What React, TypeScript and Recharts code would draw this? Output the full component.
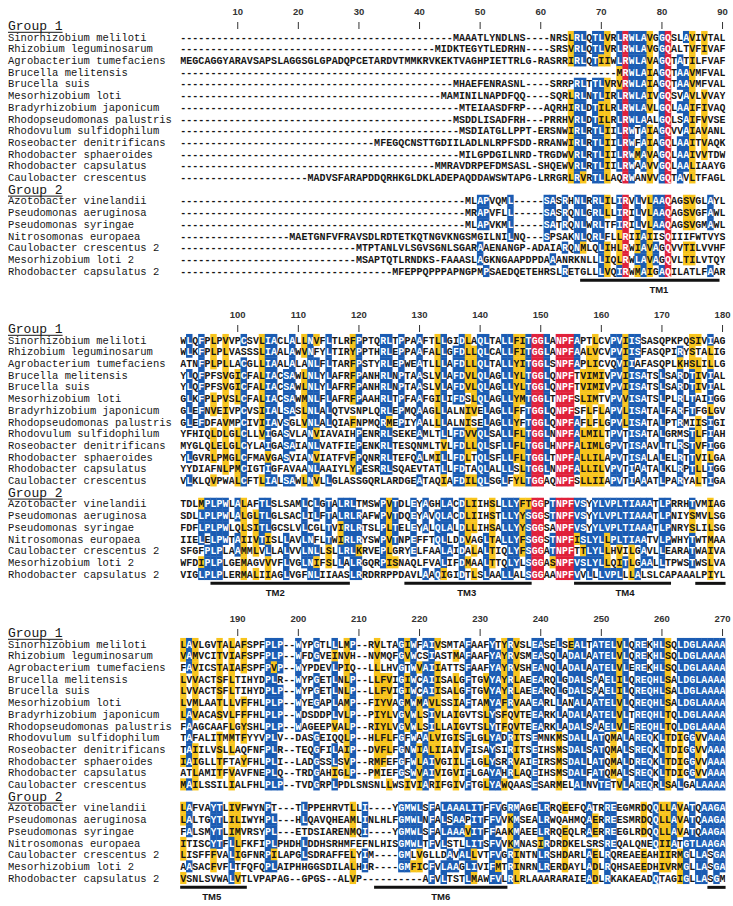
import React from 'react';
import { ScatterChart, Scatter, XAxis, YAxis, ReferenceLine } from 'recharts';

// ---------------- data ----------------
const group1Names = [
  'Sinorhizobium meliloti', 'Rhizobium leguminosarum', 'Agrobacterium tumefaciens',
  'Brucella melitensis', 'Brucella suis', 'Mesorhizobium loti', 'Bradyrhizobium japonicum',
  'Rhodopseudomonas palustris', 'Rhodovulum sulfidophilum', 'Roseobacter denitrificans',
  'Rhodobacter sphaeroides', 'Rhodobacter capsulatus', 'Caulobacter crescentus',
];
const group2Names = [
  'Azotobacter vinelandii', 'Pseudomonas aeruginosa', 'Pseudomonas syringae',
  'Nitrosomonas europaea', 'Caulobacter crescentus 2', 'Mesorhizobium loti 2',
  'Rhodobacter capsulatus 2',
];
const groupTitles = ['Group 1', 'Group 2'];

// columns 1-90
const block1Group1 = [
  '-'.repeat(45) + 'MAAATLYNDLNS----NRSLRLQT' + 'LVRLRWLAVGGQSLAVIVTAL',
  '-'.repeat(42) + 'MIDKTEGYTLEDRHN----SRSVRLQT' + 'LVRLRWLAVGGQALTVFIVAF',
  'MEGCAGGYARAVSAPSLAGGSGL' + 'GPADQPCETARDVTMMKRVKEKT' + 'VAGHPIETTRLG-RASRRIRLQT' + 'IIWLRWLAVAGQTATILFVAF',
  '-'.repeat(72) + 'MRWLAIAGQTAAVMFVAL',
  '-'.repeat(45) + 'MHAEFENRASNL----SRRPRLTT' + 'LVRVRWLAIAGQTAAVMFVAL',
  '-'.repeat(43) + 'MAMINILNAPDFQQ----SQRLRLNT' + 'LIRLRWLAIVGQSVAVLVVAY',
  '-'.repeat(46) + 'MTEIAASDFRP---AQRHIRLDT' + 'ILRLRWLAVLGQLAAIFIVAQ',
  '-'.repeat(45) + 'MSDDLISADFRH---PRRHVRLDT' + 'ILRLRWLAALGQLSAIFVVSE',
  '-'.repeat(46) + 'MSDIATGLLPPT-ERSNWIRLRT' + 'LIILRWTAIAGQVVAIAVANL',
  '-'.repeat(32) + 'MFEGQCNSTTGDI' + 'ILADLNLRPFSDD-RRANWIRLRT' + 'LIILRWFAIAGQLAAITVAQK',
  '-'.repeat(46) + 'MILGPDGILNRD-TRGDWVRLRT' + 'LIILRWMAVAGQLAAIVVTDW',
  '-'.repeat(42) + 'MMRAVDRPEFDMSASL-SHQEWVRLRT' + 'LIILRWAAVVGQLAALIAAYG',
  '-'.repeat(21) + 'MADVSFARAPDDQRHKGLDKLADE' + 'PAQDDAWSWTAPG-LRRGRLRVRT' + 'LLAQRWANVVGQTAVLTFAGL',
];
const block1Group2 = [
  '-'.repeat(47) + 'MLAPVQML-----SASRHNLRR' + 'LILIRVLVLAAQAGSVGLAYL',
  '-'.repeat(47) + 'MRAPVFLL-----SASRQNLGR' + 'LLLIRILVLAAQAGSVGFAWL',
  '-'.repeat(47) + 'MLAPVKML-----SATRQNLWR' + 'LTFIRILVLAAQAGSVGMAWL',
  '-'.repeat(18) + 'MAETGNFVFRAVSDLRDTETKQTNGVK' + 'NGSMGILNILNQ---SPSAKNLQR' + 'LFLLRIIAIISQIIIFWTVYS',
  '-'.repeat(29) + 'MTPTANLVLSGVSGNL' + 'SGARAAENANGP-ADAIARQNMLQ' + 'LIHLRWIAVAGQVVTILVVHF',
  '-'.repeat(29) + 'MSAPTQTLRNDKS-FAAA' + 'SLAGKNGAAPDPDAAANRKNLL' + 'LIQLRWLAVAGQVLTILVTQY',
  '-'.repeat(35) + 'MFEPPQPPPAPNGPMPSAEDQETEHRSLRETGLL' + 'LVQIRWMAIGAQILATLFAAR',
];

// columns 91-180
const block2Group1 = [
  'WLQFPLPVVPCSVLIACLALLNV' + 'FLTLRFPPTQRLTPPAAFTLLGI' + 'DLAQLTALLFITGGLANPFAPTL' + 'CVPVIISSASQPKPQSIVIAG',
  'WLKFPLPLVASSSLIAALAWVNF' + 'YLTIRYPPTHRLEPPAAFALLGF' + 'DLLQLCALLFITGGLANPFAALV' + 'CVPVIISFASQPIRYSTALIG',
  'ATNFPLPLLACGLLIAALALANL' + 'FLTARFPSTYRLEPWEATLLLAF' + 'DLLQLTALLYITGGLSNPFAPLI' + 'CVQVIIAFASQPLKHSLILLG',
  'YLQFPFSVGICFALIACSAWLNL' + 'YLAFRFPANHRLNPTAASLVLAF' + 'DVLQLAGLLYLTGGLQNPFTVIM' + 'IVPVIISATSLSARDTIVIAL',
  'YLQFPFSVGICFALIACSAWLNL' + 'YLAFRFPANHRLNPTAASLVLAF' + 'DVLQLAGLLYLTGGLQNPFTVIM' + 'IVPVIISATSLSARDTIVIAL',
  'GLKFPLPVSLCFALIACSAWMNL' + 'FLAFRFPAAHRLTPFAAFGILIF' + 'DSLQLAGLLYMTGGLTNPFSLIM' + 'TVPVVISATSLPLRLTAIIGG',
  'GLEFNVEIVPCVSIIALSASLNL' + 'ALQTVSNPLQRLEPMQAAGLLAL' + 'NIVELAGLLFFTGGLQNPFSFLF' + 'LAPVLISATALFARFTFGLGV',
  'GLEFDFAVMPCIVIIAVSGLVNL' + 'ALQIAFNPMQRMEPIYAALLLAL' + 'NISELAGLLYFTGGLQNPFAFLF' + 'LGPVLISATALPTRMIISIGI',
  'YFHIQLDLGLCLLVIGASVLANV' + 'IAVAIHPENRRLSEKEAMLTLLF' + 'DVVQLSALLFLTGGLNNPFALMI' + 'LTPVTISATALGRMSTLFIAH',
  'MYGLQLELGLCYLAIGASAIANL' + 'VATFIEPENKRLTESQNMLTVLF' + 'DLLQLSFLLFLTGGLHNPFALIM' + 'LGPVTISAAVLTLRSTVFIGG',
  'YLGVRLPMGLCFMAVGASVIANV' + 'IATFVFPQNRRLTEFQALMILLF' + 'DLTQLSFLLFLTGGLTNPFALLI' + 'LAPVTISALALELRTTVILGA',
  'YYDIAFNLPMCIGTIGFAVAANL' + 'AAIYLYPESRRLSQAEVTATLLF' + 'DTAQLALLLSLTGGLNNPFALLI' + 'LVPVTIAATALKLRPTLLIGG',
  'VLKLQVPWALCFTLIALSAWLNV' + 'LLGLASSGQRLARDGEATAQIAF' + 'DILQLSGLFYLTGGAQNPFSLLI' + 'IAPVTIAAATLPARYALTIGA',
];
const block2Group2 = [
  'TDLMPLPWLALAFTLSLSAMLCL' + 'GTALRLTMSWPVTDLEYAGHLAC' + 'DLIIHSLLLYFTGGPTNPFVSYY' + 'LVPLTIAAATLPRRHTVMIAG',
  'SDLLPLPWLALGLTLGLSACLIL' + 'FTALRLRAFWPVTDQEYAVQLAC' + 'DLIIHSTLLYYSGGSTNPFVSYY' + 'LVPLTIAAATLPNIYSMVLSG',
  'FDFLPLPWLQLSITLGCSLVLCG' + 'LTVIRLRTSLPLTELEYALQLAL' + 'DLLIHSALLYYSGGSANPFVSYY' + 'LVPLTIAAATLPNRYSLILSG',
  'IIELELPWTAIIVTISLLAVLNF' + 'LTWIRLRYSWPVTNPEFFTQLLD' + 'DVAGLTALLYFSGGSTNPFISLY' + 'LLPLTIAATVLPWHYTWTMAA',
  'SFGFPLPLAAMMLVLLALVVLNL' + 'LSLLRLKRVEPLGRYELFAALAI' + 'DALALTIQLYFSGGATNPFTTLY' + 'LLHVILGAVLLEARATWAIVA',
  'WFDIPLPLGEMAGVVVFLVGLNI' + 'FSLLALRGQRPISNAQLFVALIF' + 'DMAALTTQLYLSGGASNPFVSLY' + 'LLQITLGAALLTPWSTWSLVA',
  'VIGLPLPLERMALIIAGLVGFNL' + 'IIAASLRRDRRPPDAVLAAQIGI' + 'DTLSLAALLALSGGAANPFVVLL' + 'LVPLLLALSLCAPAAALPIYL',
];

// columns 181-270
const block3Group1 = [
  'LAVLGVTALAFSPFPLP--WYPG' + 'TLLLMP--RVLTAGIWFAIVSMT' + 'AFAAFYTYRVSLEASELSEALTA' + 'TELVLQREKHLSQLDGLAAAA',
  'VAMVCITVIAFSPFPLP--WFDG' + 'VEINVH--NVMQFGVWCSIASTM' + 'AFAAFYAYRVSMEASQLADALAA' + 'TELVLQREKHLSQLDGLAAAA',
  'FAVICSTAIAFSPFPVP--WYPD' + 'EVLPIQ--LLLHVGTWVAIIATT' + 'SFAAFYAYRVSHEANQLADALAA' + 'TELVLEREKHLSQLDGLAAAA',
  'LVVACTSFLTIHYDPLR--WYPG' + 'ETLNLP--LLFVIGIWCAIISAL' + 'GFTGVYAYRLAEEARQLGDALSA' + 'AELILQREQHLSALDGLAAAA',
  'LVVACTSFLTIHYDPLP--WYPG' + 'ETLNLP--LLFVIGIWCAIISAL' + 'GFTGVYAYRLAEEARQLGDALSA' + 'AELILQREQHLSALDGLAAAA',
  'LVMLAATLLVFFHLPLP--WYEG' + 'APLAMP--FIYVAGMWMAVLSSI' + 'AFTAMYAFRVAAEARLLANALAA' + 'TELVLQREQHLSALDGLAAAA',
  'LAVACASVLFFFHLPLP--WDSD' + 'DPLVLP--PIYLVGVWLSIVLAI' + 'GVTSLYSFQVTEEARKLADALAA' + 'TELVLTREQHLTQLDGLAAAA',
  'FAAGCAAFLGYSHLPLP--WAGE' + 'EPVALP--RIYLVGVWLSILLAI' + 'GVTSLYTFQVTEEARKLADALSA' + 'AELVLEREQHLTQLDGLAAAA',
  'TAFALITMMTFYYVPLV--DASG' + 'EIQQLP--HLFLFGFWAALVIGI' + 'SFLGLYADRITSEMNKMSDALLA' + 'TQMALAREQKLTDIGGVVAAA',
  'TAIILVSLLAQFNFPLR--TEQG' + 'FILAIP--DVFLFGNWIALIIAI' + 'VFISAYSIRITSEIHSMSDALSA' + 'TQMALSREQKLTDIGGVVAAA',
  'IAIGLLTFTAYFHLPLI--LADG' + 'SSLSVP--RMFEFGFWLAIVGII' + 'LFLGLYSRRVAIEIRSMSDALLA' + 'TQMALDREQKLTDIGGVVAAA',
  'ATLAMITFVAVFNEPLQ--TRDG' + 'AHIGLP--PMIEFGSWVAIVIGV' + 'IFLGAYAHRLAQEIHSMSDALFA' + 'TQMALSREQKLTDIGGVVAAA',
  'MAILSSILIALFHLPLP--TVDG' + 'RPLPDLSNSNLLWSIVIARIFGI' + 'VFTGLYAWQAASESARMELALNV' + 'TETVLAREQRLSALGALAAAA',
];
const block3Group2 = [
  'LAFVAYTLIVFWYNPT---TLPP' + 'EHRVTLLI----YGMWLSFALAA' + 'ALITFFVGRMAGELRRQEEFQAT' + 'RREEGMRDQQLLAVATQAAGA',
  'LALTGYTLILIWYHPL---HLQA' + 'VQHEAMLINLHLFGMWLNFALSA' + 'APITFFVVKMSEALRWQAHMQAE' + 'RREESMRDQQLLAVATQAAGA',
  'FALSMYTLIMVRSYPL---ETDS' + 'IARENMQI----YGMWLSFALAA' + 'AVITFFAAKMAEELRRQEQLRAE' + 'RREEGLRDQQLLAVATQAAGA',
  'ITISCYTFLLFKFIPLPHDHLDD' + 'HSRHMFEFNLHISGMWLTFVLST' + 'LLITSFVVKMNASIRDRDKELSR' + 'SREQALQNEQIIATGTLAAGA',
  'LISFFFVALIGFNRPILAPGLSD' + 'RAFFELYIM----GMLVGLLDAV' + 'ALLVTFVGRINTNLRSHDARLAE' + 'LRQREAEEAHIIRMGLLASGA',
  'AASACFVFLTFQFQPLAIPHHGG' + 'SDILALHIR----GMFICFVLAA' + 'GLIVIFMTRINRNLRERDAYLAD' + 'LRQHSAEEDHIVRMGLLASGA',
  'VSNLSVWALVTLVPAPAG--GPG' + 'S--ALVP----------AFVLTS' + 'TLMAWFVLRLRLAAARARAIEAD' + 'LRKAKAEADQTAGIGLLASGM',
];

const blockFirstColumns = [1, 91, 181];
const rulerTicks = [10, 20, 30, 40, 50, 60, 70, 80, 90];
// transmembrane segments: first column, last column, label column (global alignment columns)
const tmNames = ['TM1', 'TM2', 'TM3', 'TM4', 'TM5', 'TM6', ''];
const tmStarts = [67, 96, 128, 156, 176, 213, 268];
const tmEnds = [89, 118, 148, 171, 191, 234, 270];
const tmLabelColumns = [79.5, 106.2, 137.8, 163.9, 185.7, 223.5, 0];

// ---------------- styles / layout ----------------
const BLUE = '#1b5cb3';
const YELLOW = '#f7c41d';
const RED = '#e0213b';
const INK = '#161616';
const CHART_W = 733;
const CHART_H = 304;
const AXIS_H = 20;
const YAXIS_W = 180.17;
const RIGHT_M = 7.43;
const PITCH = 11.7;
const COLW = 6.06;
const FIRST_SLOT_Y = 25.3;
const Y0 = -(FIRST_SLOT_Y - AXIS_H) / PITCH;
const Y1 = Y0 + (CHART_H - AXIS_H) / PITCH;
const BLOCK_TOPS = [0, 303, 607];
const TM_BAR_SLOT = 21.8;
const TM_LABEL_SLOT = 22.6;
const MONO = "'Liberation Mono', 'DejaVu Sans Mono', monospace";
const SANS = "'Liberation Sans', Arial, sans-serif";
const ID_LEVEL = 0.55;
const SIM_LEVEL = 0.6;

const SIM: Record<string, string> = {
  I: 'h', L: 'h', V: 'h', M: 'h', F: 'a', Y: 'a', W: 'a', K: 'b', R: 'b',
  D: 'c', E: 'c', S: 's', T: 's', N: 'n', Q: 'n',
};
const simOf = (c: string) => SIM[c] || c;

function shadeGroup(rows: string[], col: number): string[] {
  const n = rows.length;
  const cnt: Record<string, number> = {};
  const ccnt: Record<string, number> = {};
  rows.forEach((r) => {
    const c = r[col];
    if (c && c !== '-') {
      cnt[c] = (cnt[c] || 0) + 1;
      const k = simOf(c);
      ccnt[k] = (ccnt[k] || 0) + 1;
    }
  });
  let top = '';
  let tc = 0;
  Object.keys(cnt).forEach((k) => { if (cnt[k] > tc) { tc = cnt[k]; top = k; } });
  let topC = '';
  let cc = 0;
  Object.keys(ccnt).forEach((k) => { if (ccnt[k] > cc) { cc = ccnt[k]; topC = k; } });
  return rows.map((r) => {
    const c = r[col];
    if (!c || c === '-') return '';
    if (tc / n >= ID_LEVEL && c === top) return 'B';
    if (tc / n >= ID_LEVEL && simOf(c) === simOf(top)) return 'Y';
    if (cc / n >= SIM_LEVEL && simOf(c) === topC) return 'Y';
    return '';
  });
}

type Cell = { x: number; y: number; ch: string; k: string };

function buildCells(g1: string[], g2: string[]): Cell[] {
  const cells: Cell[] = [];
  for (let col = 0; col < 90; col++) {
    const all = [...g1, ...g2].map((r) => r[col] || '-');
    const red = all[0] !== '-' && all.every((c) => c === all[0]);
    const s1 = shadeGroup(g1, col);
    const s2 = shadeGroup(g2, col);
    g1.forEach((r, i) => {
      const ch = r[col] || '-';
      cells.push({ x: col + 1, y: i + 1, ch, k: red ? 'R' : s1[i] });
    });
    g2.forEach((r, i) => {
      const ch = r[col] || '-';
      cells.push({ x: col + 1, y: i + 15, ch, k: red ? 'R' : s2[i] });
    });
  }
  return cells;
}

const slotLabels: Record<number, string> = {};
slotLabels[0] = groupTitles[0];
group1Names.forEach((n, i) => { slotLabels[i + 1] = n; });
slotLabels[14] = groupTitles[1];
group2Names.forEach((n, i) => { slotLabels[i + 15] = n; });
const ySlots = Array.from({ length: 22 }, (_, i) => i);

const SeqCell = (props: any) => {
  const { cx, cy, payload } = props;
  if (cx == null || cy == null) return <g />;
  const k = payload.k;
  const bg = k === 'R' ? RED : k === 'B' ? BLUE : k === 'Y' ? YELLOW : null;
  const fg = k === 'R' || k === 'B' ? '#ffffff' : INK;
  return (
    <g>
      {bg && (
        <rect x={cx - COLW / 2 - 0.2} y={cy - PITCH / 2 - 0.2} width={COLW + 0.4} height={PITCH + 0.4} fill={bg} />
      )}
      <text x={cx} y={cy + 3.6} textAnchor="middle" fontFamily={MONO} fontSize={10} fontWeight="bold" fill={fg}>
        {payload.ch}
      </text>
    </g>
  );
};

const TmLabel = (props: any) => {
  const { cx, cy, payload } = props;
  if (cx == null) return <g />;
  return (
    <text x={cx} y={cy + 3.5} textAnchor="middle" fontFamily={SANS} fontWeight="bold" fontSize={9.5} fill={INK}>
      {payload.name}
    </text>
  );
};

const NameTick = (props: any) => {
  const { y, payload } = props;
  const slot = payload.value;
  const label = slotLabels[slot];
  if (!label) return <g />;
  if (slot === 0 || slot === 14) {
    return (
      <g>
        <text x={8} y={y + 4.5} fontFamily={MONO} fontSize={13} fill={INK}>{label}</text>
        <line x1={8} x2={8 + label.length * 7.8} y1={y + 7} y2={y + 7} stroke={INK} strokeWidth={1} />
      </g>
    );
  }
  return (
    <text x={8} y={y + 3.6} fontFamily={MONO} fontSize={10.5} fill={INK}>{label}</text>
  );
};

function AlignmentBlock({ index, g1, g2 }: { index: number; g1: string[]; g2: string[] }) {
  const first = blockFirstColumns[index];
  const last = first + 89;
  const cells = buildCells(g1, g2);
  const segs = tmStarts
    .map((s, i) => ({ s, e: tmEnds[i] }))
    .filter((t) => t.e >= first && t.s <= last)
    .map((t) => ({ s: Math.max(t.s, first) - first + 1, e: Math.min(t.e, last) - first + 1 }));
  const labels = tmNames
    .map((name, i) => ({ name, x: tmLabelColumns[i] - first + 1, y: TM_LABEL_SLOT }))
    .filter((l) => l.name && l.x >= 1 && l.x <= 90);
  const RulerTick = (props: any) => {
    const { x, payload } = props;
    return (
      <g>
        <text x={x} y={15.3} textAnchor="middle" fontFamily={SANS} fontWeight="bold" fontSize={9.5} fill="#333">
          {payload.value + first - 1}
        </text>
        <line x1={x} x2={x} y1={22} y2={29} stroke="#333" strokeWidth={1} />
      </g>
    );
  };
  return (
    <ScatterChart width={CHART_W} height={CHART_H} margin={{ top: 0, right: RIGHT_M, bottom: 0, left: 0 }}>
      <XAxis
        type="number"
        dataKey="x"
        orientation="top"
        domain={[0.5, 90.5]}
        allowDataOverflow
        ticks={rulerTicks}
        interval={0}
        height={AXIS_H}
        axisLine={false}
        tickLine={false}
        tick={RulerTick}
      />
      <YAxis
        type="number"
        dataKey="y"
        domain={[Y0, Y1]}
        allowDataOverflow
        reversed
        ticks={ySlots}
        interval={0}
        width={YAXIS_W}
        axisLine={false}
        tickLine={false}
        tick={NameTick}
      />
      <Scatter data={cells} shape={SeqCell} isAnimationActive={false} />
      {segs.map((t, i) => (
        <ReferenceLine
          key={i}
          segment={[{ x: t.s - 0.5, y: TM_BAR_SLOT }, { x: t.e + 0.5, y: TM_BAR_SLOT }]}
          stroke="#111"
          strokeWidth={3}
          ifOverflow="visible"
        />
      ))}
      <Scatter data={labels} shape={TmLabel} isAnimationActive={false} />
    </ScatterChart>
  );
}

const blocks = [
  { g1: block1Group1, g2: block1Group2 },
  { g1: block2Group1, g2: block2Group2 },
  { g1: block3Group1, g2: block3Group2 },
];

export default function App() {
  return (
    <div style={{ position: 'absolute', left: 0, top: 0, width: 733, height: 906, background: '#fff', overflow: 'hidden' }}>
      {blocks.map((b, i) => (
        <div key={i} style={{ position: 'absolute', left: 0, top: BLOCK_TOPS[i] }}>
          <AlignmentBlock index={i} g1={b.g1} g2={b.g2} />
        </div>
      ))}
    </div>
  );
}
